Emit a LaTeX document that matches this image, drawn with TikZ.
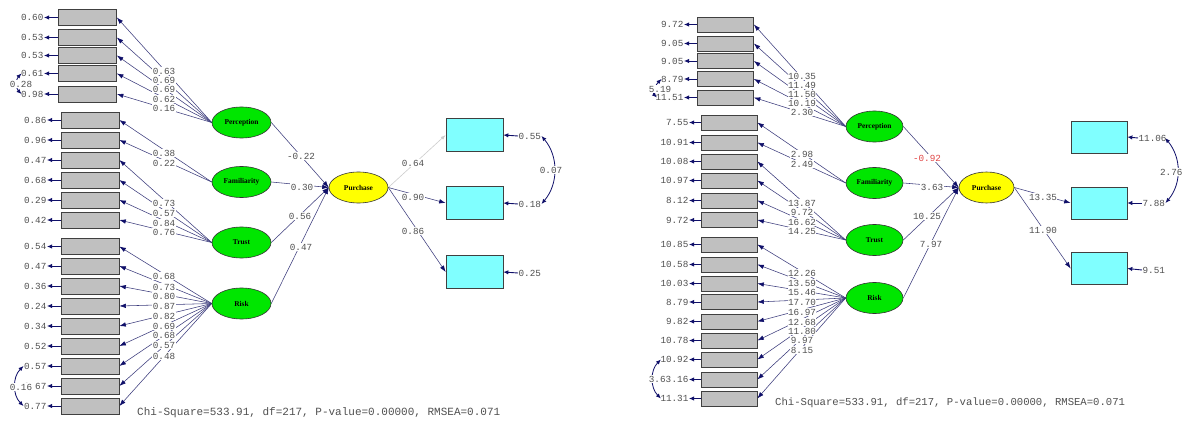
\documentclass[tikz,border=0pt]{standalone}
\usepackage{fontspec}
\setmonofont{Liberation Mono}
\newfontfamily\latfont{Liberation Serif}
\usetikzlibrary{shapes.geometric,arrows.meta}
\pgfdeclarelayer{back}
\pgfdeclarelayer{bg}
\pgfsetlayers{back,bg,main}

\definecolor{indgray}{RGB}{192,192,192}
\definecolor{latgreen}{RGB}{0,230,0}
\definecolor{endoyel}{RGB}{255,255,0}
\definecolor{obscyan}{RGB}{128,255,255}
\definecolor{pathblue}{RGB}{60,60,125}
\definecolor{tipblue}{RGB}{15,15,105}
\definecolor{numgray}{RGB}{80,80,80}
\definecolor{fixgray}{RGB}{205,205,205}
\definecolor{tred}{RGB}{225,70,70}

\tikzset{
  ind/.style={rectangle, draw=black!75, line width=0.7pt, fill=indgray,
    minimum width=58pt, minimum height=16pt, inner sep=0pt},
  indr/.style={ind, minimum width=56pt, minimum height=15pt},
  lat/.style={ellipse, draw=black!80, line width=0.6pt, fill=latgreen,
    minimum width=59pt, minimum height=31pt, inner sep=0pt,
    font=\latfont\bfseries\fontsize{7.4}{8}\selectfont},
  endo/.style={lat, fill=endoyel},
  obs/.style={rectangle, draw=black!75, line width=0.7pt, fill=obscyan,
    minimum width=57pt, minimum height=33pt, inner sep=0pt},
  numtxt/.style={font=\ttfamily\fontsize{9.3}{9.3}\selectfont, text=numgray, inner sep=0.4pt},
  coef/.style={numtxt, fill=white},
  chitxt/.style={font=\ttfamily\fontsize{11}{11}\selectfont, text=numgray, anchor=west, inner sep=0pt},
  link/.style={draw=pathblue, line width=0.55pt, -{Latex[length=6.5pt,width=4.5pt,color=tipblue]}},
  fixlink/.style={draw=fixgray, line width=0.6pt, -{Latex[length=5pt,width=3.5pt]}},
  errline/.style={draw=tipblue, line width=0.9pt, -{Latex[length=5pt,width=4.5pt]}},
  cov/.style={draw=tipblue, line width=0.8pt,
    {Latex[length=5pt,width=4.2pt]}-{Latex[length=5pt,width=4.2pt]}},
}

\begin{document}
\begin{tikzpicture}[x=1pt,y=-1pt]
\useasboundingbox (0,0) rectangle (1183,422);
\begin{pgfonlayer}{back}
  \fill[white] (0,0) rectangle (1183,422);
\end{pgfonlayer}

% ===================== standardized solution =====================
% indicators and their error variances
\foreach \n/\x/\y/\v in {1/87.5/17.5/0.60, 2/87.5/37.5/0.53, 3/87.5/55.5/0.53, 4/87.5/73.5/0.61, 5/87.5/94/0.98}{
  \node[ind] (L\n) at (\x,\y) {};
  \node[numtxt, anchor=east] (le\n) at (44,\y) {\v};
}
\foreach \n/\y/\v in {6/120/0.86, 7/140/0.96, 8/160/0.47, 9/180/0.68, 10/200/0.29, 11/220/0.42,
  12/246.5/0.54, 13/266/0.47, 14/286/0.36, 15/306/0.24, 16/326/0.34, 17/346/0.52,
  18/366/0.57, 19/386/0.67, 20/406/0.77}{
  \node[ind] (L\n) at (90,\y) {};
  \node[numtxt, anchor=east] (le\n) at (47,\y) {\v};
}

% latent variables
\node[lat] (P) at (241.5,122.5) {Perception};
\node[lat] (F) at (241.5,182) {Familiarity};
\node[lat] (T) at (241.5,242.5) {Trust};
\node[lat] (R) at (241.5,303.5) {Risk};
\node[endo] (Y) at (358.5,187.5) {Purchase};

% purchase indicators
\node[obs] (C1) at (474.5,135) {};
\node[obs] (C2) at (474.5,203) {};
\node[obs] (C3) at (474.5,272) {};
\node[numtxt, anchor=west] (ce1) at (518,136) {0.55};
\node[numtxt, anchor=west] (ce2) at (518,204) {0.18};
\node[numtxt, anchor=west] (ce3) at (518,273) {0.25};

\begin{pgfonlayer}{bg}
  \foreach \n in {1,...,5}   {\draw[link] (P.west) -- (L\n.east);}
  \foreach \n in {6,7}       {\draw[link] (F.west) -- (L\n.east);}
  \foreach \n in {8,...,11}  {\draw[link] (T.west) -- (L\n.east);}
  \foreach \n in {12,...,20} {\draw[link] (R.west) -- (L\n.east);}
  \foreach \n in {1,...,20}  {\draw[errline] (L\n.west) -- (le\n.east);}
  \draw[link] (P.east) -- (Y.west);
  \draw[link] (F.east) -- (Y.west);
  \draw[link] (T.east) -- (Y.west);
  \draw[link] (R.east) -- (Y.west);
  \draw[fixlink] (Y.east) -- (C1.west);
  \draw[link] (Y.east) -- (C2.west);
  \draw[link] (Y.east) -- (C3.west);
  \foreach \n in {1,2,3} {\draw[errline] (ce\n.west) -- (C\n.east);}
  \draw[cov] ([xshift=1pt]le4.west) to[out=225,in=135] ([xshift=1pt]le5.west);
  \draw[cov] (le18.west) to[out=225,in=135] (le20.west);
  \draw[cov] (ce1.east) to[out=-50,in=50] (ce2.east);
\end{pgfonlayer}

% coefficients
\foreach \n/\y/\v in {1/71/0.63, 2/80/0.69, 3/89/0.69, 4/99/0.62, 5/108/0.16,
  6/153/0.38, 7/163/0.22, 8/203/0.73, 9/213/0.57, 10/223/0.84, 11/232/0.76,
  12/276/0.68, 13/287/0.73, 14/296/0.80, 15/306/0.87, 16/316/0.82, 17/326/0.69,
  18/335/0.68, 19/345/0.57, 20/356/0.48}{
  \node[coef] (ll\n) at (164,\y) {\v};
}
\node[coef] (gP) at (301,156) {-0.22};
\node[coef] (gF) at (302,187) {0.30};
\node[coef] (gT) at (300,216) {0.56};
\node[coef] (gR) at (301,247) {0.47};
\node[coef] (b1) at (413,163) {0.64};
\node[coef] (b2) at (413,197) {0.90};
\node[coef] (b3) at (413,231) {0.86};
\node[coef] (th1) at (21,84) {0.28};
\node[coef] (th2) at (21,387) {0.16};
\node[coef] (th3) at (551,170) {0.07};

\node[chitxt] (chiL) at (137,413) {Chi-Square=533.91, df=217, P-value=0.00000, RMSEA=0.071};

% ===================== t-values =====================
\foreach \n/\y/\v in {1/24.5/9.72, 2/43.5/9.05, 3/61/9.05, 4/79/8.79, 5/97.5/11.51}{
  \node[indr] (Q\n) at (725.5,\y) {};
  \node[numtxt, anchor=east] (re\n) at (684,\y) {\v};
}
\foreach \n/\y/\v in {6/122.5/7.55, 7/142.5/10.91, 8/161.5/10.08, 9/180.5/10.97, 10/200.5/8.12, 11/220/9.72,
  12/244.5/10.85, 13/264.5/10.58, 14/283.5/10.03, 15/302/8.79, 16/321.5/9.82, 17/340.5/10.78,
  18/359.5/10.92, 19/379.5/10.16, 20/398.5/11.31}{
  \node[indr] (Q\n) at (729,\y) {};
  \node[numtxt, anchor=east] (re\n) at (689,\y) {\v};
}

\node[lat, minimum width=57pt] (P2) at (874.5,126.5) {Perception};
\node[lat, minimum width=57pt] (F2) at (874.5,183) {Familiarity};
\node[lat, minimum width=57pt] (T2) at (874.5,240) {Trust};
\node[lat, minimum width=57pt] (R2) at (874.5,298) {Risk};
\node[endo, minimum width=55pt] (Y2) at (986.5,187.5) {Purchase};

\node[obs, minimum width=56pt, minimum height=32pt] (D1) at (1099,137) {};
\node[obs, minimum width=56pt, minimum height=32pt] (D2) at (1099,203) {};
\node[obs, minimum width=56pt, minimum height=32pt] (D3) at (1099,268.5) {};
\node[numtxt, anchor=west] (de1) at (1138,138) {11.06};
\node[numtxt, anchor=west] (de2) at (1142,203) {7.88};
\node[numtxt, anchor=west] (de3) at (1142,270) {9.51};

\begin{pgfonlayer}{bg}
  \foreach \n in {1,...,5}   {\draw[link] (P2.west) -- (Q\n.east);}
  \foreach \n in {6,7}       {\draw[link] (F2.west) -- (Q\n.east);}
  \foreach \n in {8,...,11}  {\draw[link] (T2.west) -- (Q\n.east);}
  \foreach \n in {12,...,20} {\draw[link] (R2.west) -- (Q\n.east);}
  \foreach \n in {1,...,20}  {\draw[errline] (Q\n.west) -- (re\n.east);}
  \draw[link] (P2.east) -- (Y2.west);
  \draw[link] (F2.east) -- (Y2.west);
  \draw[link] (T2.east) -- (Y2.west);
  \draw[link] (R2.east) -- (Y2.west);
  \draw[link] (Y2.east) -- (D2.west);
  \draw[link] (Y2.east) -- (D3.west);
  \foreach \n in {1,2,3} {\draw[errline] (de\n.west) -- (D\n.east);}
  \draw[cov] ([xshift=1pt]re4.west) to[out=225,in=135] ([xshift=2pt]re5.west);
  \draw[cov] ([xshift=1pt]re18.west) to[out=225,in=135] ([xshift=1pt]re20.west);
  \draw[cov] ([xshift=-2pt]de1.east) to[out=-50,in=50] (de2.east);
\end{pgfonlayer}

\foreach \n/\y/\v in {1/76/10.35, 2/85/11.49, 3/94/11.50, 4/103/10.19, 5/112/2.30,
  6/154/2.98, 7/164/2.49, 8/203/13.87, 9/212/9.72, 10/222/16.62, 11/231/14.25,
  12/273/12.26, 13/283/13.59, 14/292/15.46, 15/302/17.70, 16/312/16.97, 17/322/12.68,
  18/331/11.80, 19/340/9.97, 20/350/8.15}{
  \node[coef] (rl\n) at (802,\y) {\v};
}
\node[coef, text=tred] (tP) at (927,158) {-0.92};
\node[coef] (tF) at (932,187) {3.63};
\node[coef] (tT) at (927,216) {10.25};
\node[coef] (tR) at (931,244) {7.97};
\node[coef] (t2) at (1043,197) {13.35};
\node[coef] (t3) at (1043,230) {11.90};
\node[coef] (tth1) at (660,89) {5.19};
\node[coef] (tth2) at (660,379) {3.63};
\node[coef, anchor=east] (tth3) at (1183,172) {2.76};

\node[chitxt, font=\ttfamily\fontsize{10.6}{10.6}\selectfont] (chiR) at (775,403) {Chi-Square=533.91, df=217, P-value=0.00000, RMSEA=0.071};
\end{tikzpicture}
\end{document}
